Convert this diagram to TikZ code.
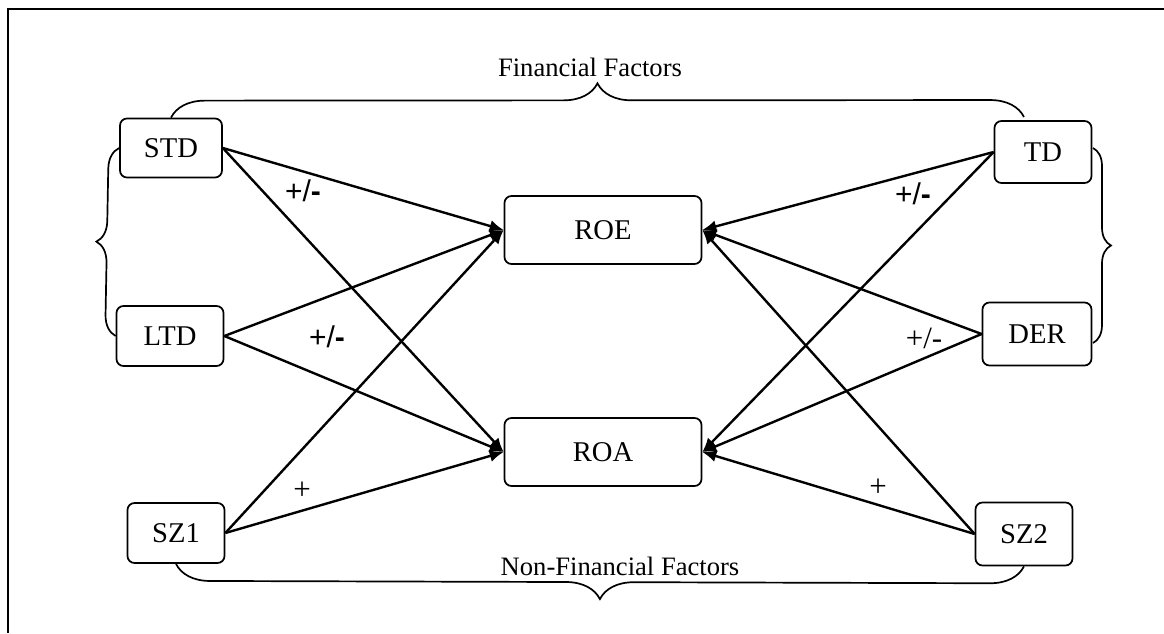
\documentclass[tikz,border=0pt]{standalone}
\usepackage{fontspec}
\setmainfont{Liberation Serif}
\newfontfamily\arialfont{Liberation Sans}
\usetikzlibrary{arrows.meta,decorations.pathreplacing}

\begin{document}
\begin{tikzpicture}[x=0.5pt,y=-0.5pt,
		factor/.style={draw,line width=0.85pt,rounded corners=3.5pt,inner sep=0pt,font=\fontsize{14.3}{17}\selectfont},
		effect/.style={line width=1.2pt,-{Latex[length=7pt,width=6pt]}},
		group/.style={line width=0.85pt,decorate,decoration={brace,amplitude=#1}},
		sgn/.style={font=\arialfont\fontsize{15}{18}\selectfont},
		tsgn/.style={font=\fontsize{15.5}{18}\selectfont},
		title/.style={font=\fontsize{13.3}{16}\selectfont}]
			\useasboundingbox (0,0) rectangle (1164,633);
			\draw[line width=1.2pt](1164,9)--(8,9)--(8,633);
			\node[factor,minimum width=51pt,minimum height=29.5pt] (STD) at (171,148) {STD};
			\node[factor,minimum width=53.5pt,minimum height=30pt] (LTD) at (170,336) {LTD};
			\node[factor,minimum width=48.5pt,minimum height=30pt] (SZ1) at (176,533) {SZ1};
			\node[factor,minimum width=48.5pt,minimum height=31pt] (TD) at (1043,152) {TD};
			\node[factor,minimum width=54.5pt,minimum height=31.5pt] (DER) at (1037,334) {DER};
			\node[factor,minimum width=48.5pt,minimum height=31.5pt] (SZ2) at (1024,534) {SZ2};
			\node[factor,minimum width=98.5pt,minimum height=34pt] (ROE) at (603,230) {ROE};
			\node[factor,minimum width=98.5pt,minimum height=34pt] (ROA) at (603,452) {ROA};
			\draw[effect](STD.east)--(ROE.west);
			\draw[effect](STD.east)--(ROA.west);
			\draw[effect](LTD.east)--(ROE.west);
			\draw[effect](LTD.east)--(ROA.west);
			\draw[effect](SZ1.east)--(ROE.west);
			\draw[effect](SZ1.east)--(ROA.west);
			\draw[effect](TD.west)--(ROE.east);
			\draw[effect](TD.west)--(ROA.east);
			\draw[effect](DER.west)--(ROE.east);
			\draw[effect](DER.west)--(ROA.east);
			\draw[effect](SZ2.west)--(ROE.east);
			\draw[effect](SZ2.west)--(ROA.east);
			% brace ends
			\coordinate (TDtop) at (1024,117);
			\coordinate (TDside) at (1093,148);
			\coordinate (DERside) at (1093,343);
			\draw[group=17pt](STD.north)--(TDtop);
			\draw[group=10.5pt](LTD.west)--(STD.west);
			\draw[group=9pt](TDside)--(DERside);
			\draw[group=17pt](SZ2.south)--(SZ1.south);
			\node[title] (fin) at (590,67) {Financial Factors};
			\node[title] (nonfin) at (620,566) {Non-Financial Factors};
			\node[sgn] (sSTD) at (303,191) {+/\textbf{-}};
			\node[sgn] (sLTD) at (327,337) {+/\textbf{-}};
			\node[sgn] (sTD) at (913,194) {+/\textbf{-}};
			\node[tsgn] (sDER) at (924,338) {+/-};
			\node[tsgn] (sSZ1) at (302,491) {+};
			\node[tsgn] (sSZ2) at (878,488) {+};
		\end{tikzpicture}
\end{document}
